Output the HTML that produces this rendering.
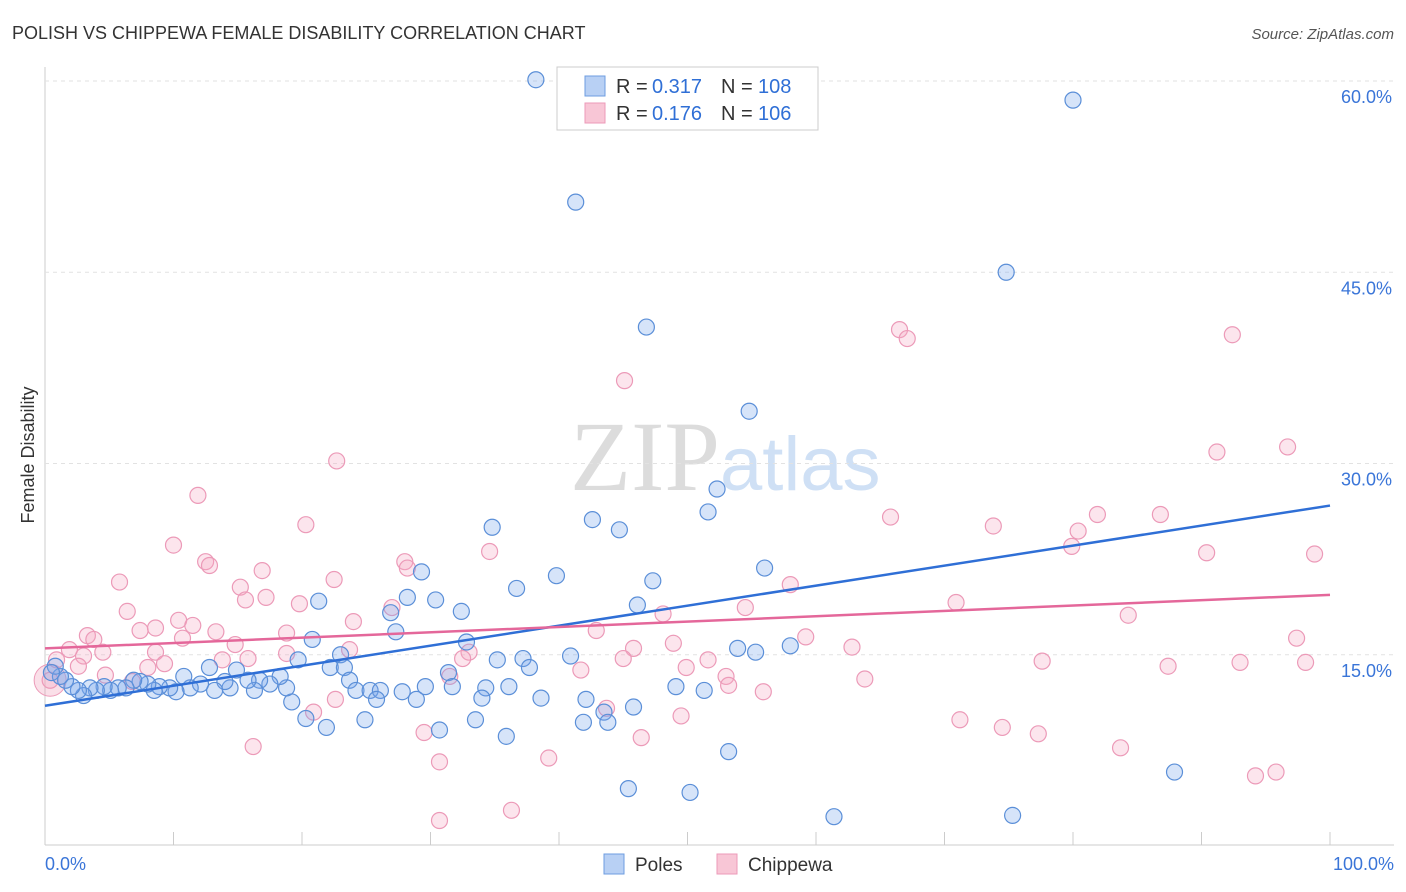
<!DOCTYPE html>
<html><head><meta charset="utf-8">
<style>
body{margin:0;background:#fff;font-family:"Liberation Sans",sans-serif;}
#wrap{position:relative;width:1406px;height:892px;overflow:hidden;}
</style></head>
<body>
<div id="wrap">
<svg id="svg" width="1406" height="892" xmlns="http://www.w3.org/2000/svg">
<text x="12" y="39" font-size="18" fill="#333">POLISH VS CHIPPEWA FEMALE DISABILITY CORRELATION CHART</text>
<text x="1394" y="39" font-size="15" fill="#555" text-anchor="end" font-style="italic">Source: ZipAtlas.com</text>
<text x="720" y="490" font-size="100" fill="#dcdcdc" text-anchor="end" font-family="Liberation Serif">ZIP</text>
<text x="720" y="490" font-size="76" fill="#cfe0f5">atlas</text>
<text x="34" y="455" font-size="18" fill="#333" text-anchor="middle" transform="rotate(-90 34 455)">Female Disability</text>
<g id="grid"></g><g id="pts"></g><g id="lines"></g>
<g>
<rect x="557" y="67" width="261" height="63" fill="#fff" stroke="#ccc"/>
<rect x="585" y="76" width="20" height="20" fill="#b8d0f4" stroke="#6e9de0"/>
<rect x="585" y="103" width="20" height="20" fill="#f8c6d6" stroke="#ec9ab8"/>
<text x="616" y="93" font-size="20" fill="#333">R =</text>
<text x="652" y="93" font-size="20" fill="#2f6fd6">0.317</text>
<text x="721" y="93" font-size="20" fill="#333">N =</text>
<text x="758" y="93" font-size="20" fill="#2f6fd6">108</text>
<text x="616" y="120" font-size="20" fill="#333">R =</text>
<text x="652" y="120" font-size="20" fill="#2f6fd6">0.176</text>
<text x="721" y="120" font-size="20" fill="#333">N =</text>
<text x="758" y="120" font-size="20" fill="#2f6fd6">106</text>
</g>
<g>
<rect x="604" y="854" width="20" height="20" fill="#b8d0f4" stroke="#6e9de0"/>
<text x="635" y="871" font-size="19" fill="#333">Poles</text>
<rect x="717" y="854" width="20" height="20" fill="#f8c6d6" stroke="#ec9ab8"/>
<text x="748" y="871" font-size="19" fill="#333">Chippewa</text>
</g>
</svg>
</div>
<script>
const yTicks=[15,30,45,60];
const yTickLabels=["15.0%","30.0%","45.0%","60.0%"];
const xTickLabels=["0.0%","100.0%"];
const polesX=[38.2,80.0,41.3,74.8,46.8,54.8,52.3,51.6,42.6,44.7,34.8,56.0,39.8,47.3,36.7,29.3,21.3,28.2,30.4,32.4,46.1,26.9,27.3,20.8,32.8,19.7,23.0,22.2,23.3,23.7,24.2,25.3,26.1,27.8,29.6,28.9,25.8,31.4,31.7,34.3,34.0,35.2,36.1,37.2,37.7,38.6,40.9,42.1,43.5,41.9,43.8,45.8,49.1,51.3,53.9,55.3,58.0,53.2,45.4,50.2,61.4,75.3,87.9,33.5,35.9,30.7,24.9,21.9,20.3,19.2,18.8,18.3,17.5,16.7,16.3,15.8,14.9,14.4,14.0,13.2,12.8,12.1,11.3,10.8,10.2,9.7,8.9,8.5,8.0,7.4,6.9,6.3,5.7,5.1,4.6,4.0,3.5,3.0,2.6,2.1,1.6,1.2,0.8,0.5];
const polesY=[60.1,58.5,50.5,45.0,40.7,34.1,28.0,26.2,25.6,24.8,25.0,21.8,21.2,20.8,20.2,21.5,19.2,19.5,19.3,18.4,18.9,18.3,16.8,16.2,16.0,14.6,15.0,14.0,14.0,13.0,12.2,12.2,12.2,12.1,12.5,11.5,11.5,13.6,12.5,12.4,11.6,14.6,12.5,14.7,14.0,11.6,14.9,11.5,10.5,9.7,9.7,10.9,12.5,12.2,15.5,15.2,15.7,7.4,4.5,4.2,2.3,2.4,5.8,9.9,8.6,9.1,9.9,9.3,10.0,11.3,12.4,13.3,12.7,13.0,12.2,13.0,13.8,12.4,12.9,12.2,14.0,12.7,12.4,13.3,12.1,12.4,12.5,12.2,12.7,12.9,13.0,12.4,12.4,12.2,12.5,12.2,12.4,11.8,12.2,12.5,13.0,13.3,14.1,13.6];
const chipX=[30.7,36.3,30.7,39.2,16.2,46.4,83.7,94.2,95.8,77.3,74.5,71.2,49.5,43.7,29.5,22.6,20.9,11.9,22.7,45.1,66.5,67.1,92.4,91.2,96.7,65.8,73.8,81.9,86.8,80.4,79.9,90.4,98.8,34.6,20.3,10.0,12.5,12.8,28.0,28.2,16.9,22.5,5.8,15.2,15.6,17.2,19.8,27.0,24.0,6.4,10.4,11.5,7.4,8.6,13.3,10.7,3.3,3.8,14.8,18.8,23.7,18.8,15.8,33.0,32.5,8.6,4.5,1.9,3.0,0.9,2.6,8.0,9.3,13.8,42.9,48.1,54.5,58.0,70.9,84.3,97.4,59.2,48.9,62.8,45.8,45.0,51.6,41.7,49.9,53.0,53.2,55.9,63.8,77.6,87.4,93.0,98.1,31.5,6.8,4.7,0.4];
const chipY=[2.0,2.8,6.6,6.9,7.8,8.5,7.7,5.5,5.8,8.8,9.3,9.9,10.2,10.8,8.9,11.5,10.5,27.5,30.2,36.5,40.5,39.8,40.1,30.9,31.3,25.8,25.1,26.0,26.0,24.7,23.5,23.0,22.9,23.1,25.2,23.6,22.3,22.0,22.3,21.8,21.6,20.9,20.7,20.3,19.3,19.5,19.0,18.7,17.6,18.4,17.7,17.3,16.9,17.1,16.8,16.3,16.5,16.2,15.8,16.7,15.4,15.1,14.7,15.2,14.7,15.2,15.2,15.4,14.9,14.6,14.1,14.0,14.3,14.6,16.9,18.2,18.7,20.5,19.1,18.1,16.3,16.4,15.9,15.6,15.5,14.7,14.6,13.8,14.0,13.3,12.6,12.1,13.1,14.5,14.1,14.4,14.4,13.3,12.9,13.4,13.0];
const polesTrend=[11.0,26.7];
const chipTrend=[15.5,19.7];
const NS="http://www.w3.org/2000/svg";
const X=v=>45+v*12.85, Y=v=>846-v*12.75;
function mk(t,a,p){const e=document.createElementNS(NS,t);for(const k in a)e.setAttribute(k,a[k]);p.appendChild(e);return e;}
const grid=document.getElementById('grid'),pts=document.getElementById('pts'),lines=document.getElementById('lines');
let ax=mk('line',{x1:45,y1:67,x2:45,y2:845,stroke:'#ccc'},grid);

let bx=mk('line',{x1:45,y1:845,x2:1394,y2:845,stroke:'#ccc'},grid);

for(let i=0;i<=10;i++){const t=mk('line',{x1:X(i*10),y1:832,x2:X(i*10),y2:845,stroke:'#ccc'},grid);
}
yTicks.forEach((v,i)=>{const g=mk('line',{x1:45,y1:Y(v),x2:1394,y2:Y(v),stroke:'#e2e2e2','stroke-dasharray':'4,4'},grid);

const t=mk('text',{x:1392,y:Y(v)+22,'font-size':18,fill:'#3a75d8','text-anchor':'end'},grid);t.textContent=yTickLabels[i];
});
[[45,'start',0],[1394,'end',1]].forEach(([x,a,i])=>{const t=mk('text',{x:x,y:870,'font-size':18,fill:'#3a75d8','text-anchor':a},grid);t.textContent=xTickLabels[i];
});
const big=mk('circle',{cx:X(0.4),cy:Y(13.0),r:16,fill:'rgba(240,150,180,0.3)',stroke:'#ec9ab8'},pts);


chipX.forEach((x,i)=>{const c=mk('circle',{cx:X(x),cy:Y(chipY[i]),r:8,fill:'rgba(244,170,196,0.3)',stroke:'#ec9ab8','stroke-width':1.2},pts);

});
polesX.forEach((x,i)=>{const c=mk('circle',{cx:X(x),cy:Y(polesY[i]),r:8,fill:'rgba(120,165,235,0.3)',stroke:'#5b8fd8','stroke-width':1.2},pts);

});
const l1=mk('line',{x1:X(0),y1:Y(polesTrend[0]),x2:X(100),y2:Y(polesTrend[1]),stroke:'#2f6fd6','stroke-width':2.5},lines);


const l2=mk('line',{x1:X(0),y1:Y(chipTrend[0]),x2:X(100),y2:Y(chipTrend[1]),stroke:'#e4679a','stroke-width':2.5},lines);


</script>
</body></html>
